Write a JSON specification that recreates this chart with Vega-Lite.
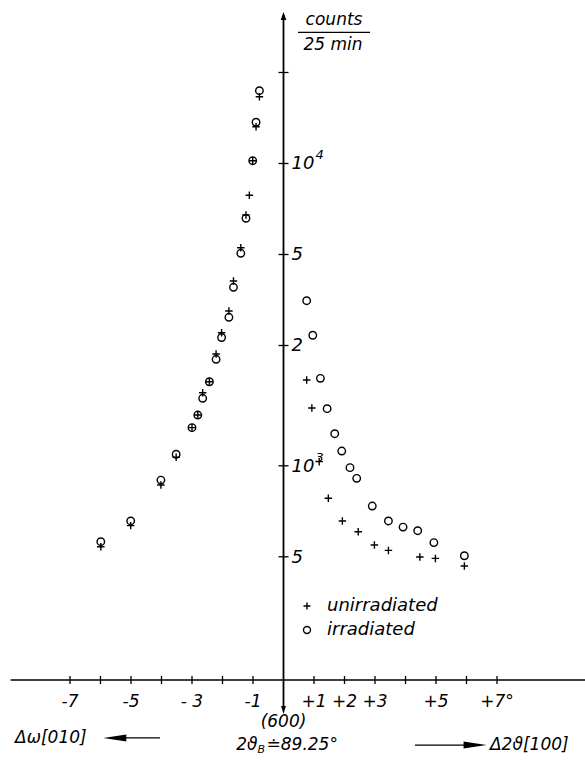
{
  "$schema": "https://vega.github.io/schema/vega-lite/v6.json",
  "width": 585,
  "height": 763,
  "padding": 0,
  "autosize": {"type": "none"},
  "background": "white",
  "config": {
    "view": {"stroke": null},
    "text": {"font": "DejaVu Sans", "fontStyle": "italic", "fontSize": 17, "color": "black"}
  },
  "data": {"values": [{}]},
  "datasets": {
    "pts": [
      {"x": -0.79, "counts": 17410, "series": "irradiated"},
      {"x": -0.79, "counts": 16630, "series": "unirradiated"},
      {"x": -0.9, "counts": 13690, "series": "irradiated"},
      {"x": -0.9, "counts": 13230, "series": "unirradiated"},
      {"x": -1.01, "counts": 10215, "series": "irradiated"},
      {"x": -1.01, "counts": 10215, "series": "unirradiated"},
      {"x": -1.12, "counts": 7849, "series": "unirradiated"},
      {"x": -1.23, "counts": 6587, "series": "irradiated"},
      {"x": -1.23, "counts": 6755, "series": "unirradiated"},
      {"x": -1.4, "counts": 5047, "series": "irradiated"},
      {"x": -1.4, "counts": 5266, "series": "unirradiated"},
      {"x": -1.64, "counts": 3895, "series": "irradiated"},
      {"x": -1.64, "counts": 4087, "series": "unirradiated"},
      {"x": -1.79, "counts": 3099, "series": "irradiated"},
      {"x": -1.79, "counts": 3252, "series": "unirradiated"},
      {"x": -2.03, "counts": 2657, "series": "irradiated"},
      {"x": -2.03, "counts": 2756, "series": "unirradiated"},
      {"x": -2.21, "counts": 2251, "series": "irradiated"},
      {"x": -2.21, "counts": 2343, "series": "unirradiated"},
      {"x": -2.43, "counts": 1897, "series": "irradiated"},
      {"x": -2.43, "counts": 1897, "series": "unirradiated"},
      {"x": -2.65, "counts": 1672, "series": "irradiated"},
      {"x": -2.65, "counts": 1745, "series": "unirradiated"},
      {"x": -2.81, "counts": 1472, "series": "irradiated"},
      {"x": -2.81, "counts": 1472, "series": "unirradiated"},
      {"x": -3.0, "counts": 1337, "series": "irradiated"},
      {"x": -3.0, "counts": 1337, "series": "unirradiated"},
      {"x": -3.52, "counts": 1092, "series": "irradiated"},
      {"x": -3.52, "counts": 1067, "series": "unirradiated"},
      {"x": -4.02, "counts": 897, "series": "irradiated"},
      {"x": -4.02, "counts": 864, "series": "unirradiated"},
      {"x": -5.01, "counts": 657, "series": "irradiated"},
      {"x": -5.01, "counts": 634, "series": "unirradiated"},
      {"x": -5.99, "counts": 561, "series": "irradiated"},
      {"x": -5.99, "counts": 540, "series": "unirradiated"},
      {"x": 0.76, "counts": 3517, "series": "irradiated"},
      {"x": 0.96, "counts": 2703, "series": "irradiated"},
      {"x": 1.21, "counts": 1947, "series": "irradiated"},
      {"x": 1.43, "counts": 1545, "series": "irradiated"},
      {"x": 1.68, "counts": 1277, "series": "irradiated"},
      {"x": 1.91, "counts": 1119, "series": "irradiated"},
      {"x": 2.18, "counts": 986, "series": "irradiated"},
      {"x": 2.4, "counts": 909, "series": "irradiated"},
      {"x": 2.91, "counts": 736, "series": "irradiated"},
      {"x": 3.44, "counts": 657, "series": "irradiated"},
      {"x": 3.92, "counts": 627, "series": "irradiated"},
      {"x": 4.4, "counts": 610, "series": "irradiated"},
      {"x": 4.93, "counts": 557, "series": "irradiated"},
      {"x": 5.93, "counts": 504, "series": "irradiated"},
      {"x": 0.76, "counts": 1922, "series": "unirradiated"},
      {"x": 0.93, "counts": 1553, "series": "unirradiated"},
      {"x": 1.17, "counts": 1032, "series": "unirradiated"},
      {"x": 1.47, "counts": 781, "series": "unirradiated"},
      {"x": 1.93, "counts": 657, "series": "unirradiated"},
      {"x": 2.45, "counts": 605, "series": "unirradiated"},
      {"x": 2.98, "counts": 547, "series": "unirradiated"},
      {"x": 3.44, "counts": 525, "series": "unirradiated"},
      {"x": 4.47, "counts": 499, "series": "unirradiated"},
      {"x": 4.98, "counts": 494, "series": "unirradiated"},
      {"x": 5.93, "counts": 466, "series": "unirradiated"}
    ],
    "yt": [
      {"v": 500, "label": "5", "exp": ""},
      {"v": 1000, "label": "10", "exp": "3"},
      {"v": 2500, "label": "2", "exp": ""},
      {"v": 5000, "label": "5", "exp": ""},
      {"v": 10000, "label": "10", "exp": "4"},
      {"v": 20000, "label": "", "exp": ""}
    ],
    "xt": [
      {"v": -7, "label": "-7"}, {"v": -6, "label": ""}, {"v": -5, "label": "-5"},
      {"v": -4, "label": ""}, {"v": -3, "label": "- 3"}, {"v": -2, "label": ""},
      {"v": -1, "label": "-1"}, {"v": 1, "label": "+1"}, {"v": 2, "label": "+2"},
      {"v": 3, "label": "+3"}, {"v": 4, "label": ""}, {"v": 5, "label": "+5"},
      {"v": 6, "label": ""}, {"v": 7, "label": "+7°"}
    ]
  },
  "layer": [
    {
      "mark": {"type": "rule", "color": "black", "strokeWidth": 1.5},
      "encoding": {
        "x": {"datum": -8.95, "type": "quantitative", "scale": {"domain": [-9.295, 9.885], "nice": false, "zero": false}, "axis": null},
        "x2": {"datum": 9.885},
        "y": {"datum": 195.6, "type": "quantitative", "scale": {"type": "log", "domain": [103.96, 34740], "nice": false}, "axis": null}
      }
    },
    {
      "mark": {"type": "rule", "color": "black", "strokeWidth": 1.8},
      "encoding": {
        "x": {"datum": 0, "type": "quantitative", "scale": {"domain": [-9.295, 9.885], "nice": false, "zero": false}, "axis": null},
        "y": {"datum": 160.5, "type": "quantitative", "scale": {"type": "log", "domain": [103.96, 34740], "nice": false}, "axis": null},
        "y2": {"datum": 30990}
      }
    },
    {
      "mark": {"type": "point", "shape": "M0,-1L0.7,1L-0.7,1Z", "filled": true, "color": "black", "opacity": 1, "size": 64},
      "encoding": {
        "x": {"datum": 0, "type": "quantitative", "scale": {"domain": [-9.295, 9.885], "nice": false, "zero": false}, "axis": null},
        "y": {"datum": 30750, "type": "quantitative", "scale": {"type": "log", "domain": [103.96, 34740], "nice": false}, "axis": null}
      }
    },
    {
      "mark": {"type": "point", "shape": "M0,1L0.6,-1L-0.6,-1Z", "filled": true, "color": "black", "opacity": 1, "size": 64},
      "encoding": {
        "x": {"datum": 0, "type": "quantitative", "scale": {"domain": [-9.295, 9.885], "nice": false, "zero": false}, "axis": null},
        "y": {"datum": 155.7, "type": "quantitative", "scale": {"type": "log", "domain": [103.96, 34740], "nice": false}, "axis": null}
      }
    },
    {
      "data": {"name": "xt"},
      "mark": {"type": "tick", "orient": "vertical", "color": "black", "size": 8, "thickness": 1.3, "opacity": 1},
      "encoding": {
        "x": {"field": "v", "type": "quantitative", "scale": {"domain": [-9.295, 9.885], "nice": false, "zero": false}, "axis": null},
        "y": {"datum": 195.6, "type": "quantitative", "scale": {"type": "log", "domain": [103.96, 34740], "nice": false}, "axis": null}
      }
    },
    {
      "data": {"name": "xt"},
      "mark": {"type": "text", "align": "center", "baseline": "middle", "dy": 22},
      "encoding": {
        "x": {"field": "v", "type": "quantitative", "scale": {"domain": [-9.295, 9.885], "nice": false, "zero": false}, "axis": null},
        "y": {"datum": 195.6, "type": "quantitative", "scale": {"type": "log", "domain": [103.96, 34740], "nice": false}, "axis": null},
        "text": {"field": "label"}
      }
    },
    {
      "data": {"name": "yt"},
      "mark": {"type": "tick", "orient": "horizontal", "color": "black", "size": 10, "thickness": 1.3, "opacity": 1},
      "encoding": {
        "x": {"datum": 0, "type": "quantitative", "scale": {"domain": [-9.295, 9.885], "nice": false, "zero": false}, "axis": null},
        "y": {"field": "v", "type": "quantitative", "scale": {"type": "log", "domain": [103.96, 34740], "nice": false}, "axis": null}
      }
    },
    {
      "data": {"name": "yt"},
      "mark": {"type": "text", "align": "left", "baseline": "middle", "dx": 8, "dy": 1, "fontSize": 18},
      "encoding": {
        "x": {"datum": 0, "type": "quantitative", "scale": {"domain": [-9.295, 9.885], "nice": false, "zero": false}, "axis": null},
        "y": {"field": "v", "type": "quantitative", "scale": {"type": "log", "domain": [103.96, 34740], "nice": false}, "axis": null},
        "text": {"field": "label"}
      }
    },
    {
      "data": {"name": "yt"},
      "mark": {"type": "text", "align": "left", "baseline": "middle", "dx": 32, "dy": -8, "fontSize": 13},
      "encoding": {
        "x": {"datum": 0, "type": "quantitative", "scale": {"domain": [-9.295, 9.885], "nice": false, "zero": false}, "axis": null},
        "y": {"field": "v", "type": "quantitative", "scale": {"type": "log", "domain": [103.96, 34740], "nice": false}, "axis": null},
        "text": {"field": "exp"}
      }
    },
    {
      "mark": {"type": "text", "align": "center", "baseline": "middle"},
      "encoding": {
        "x": {"datum": 1.656, "type": "quantitative", "scale": {"domain": [-9.295, 9.885], "nice": false, "zero": false}, "axis": null},
        "y": {"datum": 29830, "type": "quantitative", "scale": {"type": "log", "domain": [103.96, 34740], "nice": false}, "axis": null},
        "text": {"value": "counts"}
      }
    },
    {
      "mark": {"type": "text", "align": "center", "baseline": "middle"},
      "encoding": {
        "x": {"datum": 1.625, "type": "quantitative", "scale": {"domain": [-9.295, 9.885], "nice": false, "zero": false}, "axis": null},
        "y": {"datum": 24570, "type": "quantitative", "scale": {"type": "log", "domain": [103.96, 34740], "nice": false}, "axis": null},
        "text": {"value": "25 min"}
      }
    },
    {
      "mark": {"type": "rule", "color": "black", "strokeWidth": 1.3},
      "encoding": {
        "x": {"datum": 0.475, "type": "quantitative", "scale": {"domain": [-9.295, 9.885], "nice": false, "zero": false}, "axis": null},
        "x2": {"datum": 2.836},
        "y": {"datum": 27160, "type": "quantitative", "scale": {"type": "log", "domain": [103.96, 34740], "nice": false}, "axis": null}
      }
    },
    {
      "mark": {"type": "text", "align": "center", "baseline": "middle"},
      "encoding": {
        "x": {"datum": 0, "type": "quantitative", "scale": {"domain": [-9.295, 9.885], "nice": false, "zero": false}, "axis": null},
        "y": {"datum": 142.1, "type": "quantitative", "scale": {"type": "log", "domain": [103.96, 34740], "nice": false}, "axis": null},
        "text": {"value": "(600)"}
      }
    },
    {
      "mark": {"type": "text", "align": "right", "baseline": "middle", "dx": -26},
      "encoding": {
        "x": {"datum": 0, "type": "quantitative", "scale": {"domain": [-9.295, 9.885], "nice": false, "zero": false}, "axis": null},
        "y": {"datum": 119.2, "type": "quantitative", "scale": {"type": "log", "domain": [103.96, 34740], "nice": false}, "axis": null},
        "text": {"value": "2ϑ"}
      }
    },
    {
      "mark": {"type": "text", "align": "left", "baseline": "middle", "dx": -26, "dy": 5, "fontSize": 11},
      "encoding": {
        "x": {"datum": 0, "type": "quantitative", "scale": {"domain": [-9.295, 9.885], "nice": false, "zero": false}, "axis": null},
        "y": {"datum": 119.2, "type": "quantitative", "scale": {"type": "log", "domain": [103.96, 34740], "nice": false}, "axis": null},
        "text": {"value": "B"}
      }
    },
    {
      "mark": {"type": "text", "align": "left", "baseline": "middle", "dx": -17},
      "encoding": {
        "x": {"datum": 0, "type": "quantitative", "scale": {"domain": [-9.295, 9.885], "nice": false, "zero": false}, "axis": null},
        "y": {"datum": 119.2, "type": "quantitative", "scale": {"type": "log", "domain": [103.96, 34740], "nice": false}, "axis": null},
        "text": {"value": "≐89.25°"}
      }
    },
    {
      "mark": {"type": "text", "align": "left", "baseline": "middle"},
      "encoding": {
        "x": {"datum": -8.8, "type": "quantitative", "scale": {"domain": [-9.295, 9.885], "nice": false, "zero": false}, "axis": null},
        "y": {"datum": 125.8, "type": "quantitative", "scale": {"type": "log", "domain": [103.96, 34740], "nice": false}, "axis": null},
        "text": {"value": "Δω[010]"}
      }
    },
    {
      "mark": {"type": "text", "align": "left", "baseline": "middle"},
      "encoding": {
        "x": {"datum": 6.77, "type": "quantitative", "scale": {"domain": [-9.295, 9.885], "nice": false, "zero": false}, "axis": null},
        "y": {"datum": 119.2, "type": "quantitative", "scale": {"type": "log", "domain": [103.96, 34740], "nice": false}, "axis": null},
        "text": {"value": "Δ2ϑ[100]"}
      }
    },
    {
      "mark": {"type": "rule", "color": "black", "strokeWidth": 1.2},
      "encoding": {
        "x": {"datum": -5.4, "type": "quantitative", "scale": {"domain": [-9.295, 9.885], "nice": false, "zero": false}, "axis": null},
        "x2": {"datum": -4.05},
        "y": {"datum": 125.8, "type": "quantitative", "scale": {"type": "log", "domain": [103.96, 34740], "nice": false}, "axis": null}
      }
    },
    {
      "mark": {"type": "point", "shape": "M-1,0L1,-0.3L1,0.3Z", "filled": true, "color": "black", "opacity": 1, "size": 529},
      "encoding": {
        "x": {"datum": -5.53, "type": "quantitative", "scale": {"domain": [-9.295, 9.885], "nice": false, "zero": false}, "axis": null},
        "y": {"datum": 125.8, "type": "quantitative", "scale": {"type": "log", "domain": [103.96, 34740], "nice": false}, "axis": null}
      }
    },
    {
      "mark": {"type": "rule", "color": "black", "strokeWidth": 1.2},
      "encoding": {
        "x": {"datum": 4.31, "type": "quantitative", "scale": {"domain": [-9.295, 9.885], "nice": false, "zero": false}, "axis": null},
        "x2": {"datum": 6.1},
        "y": {"datum": 119.2, "type": "quantitative", "scale": {"type": "log", "domain": [103.96, 34740], "nice": false}, "axis": null}
      }
    },
    {
      "mark": {"type": "point", "shape": "M1,0L-1,-0.3L-1,0.3Z", "filled": true, "color": "black", "opacity": 1, "size": 529},
      "encoding": {
        "x": {"datum": 6.28, "type": "quantitative", "scale": {"domain": [-9.295, 9.885], "nice": false, "zero": false}, "axis": null},
        "y": {"datum": 119.2, "type": "quantitative", "scale": {"type": "log", "domain": [103.96, 34740], "nice": false}, "axis": null}
      }
    },
    {
      "data": {"name": "pts"},
      "mark": {"type": "point", "filled": false, "color": "black", "opacity": 1, "strokeWidth": 1.4, "size": 56},
      "encoding": {
        "x": {"field": "x", "type": "quantitative", "scale": {"domain": [-9.295, 9.885], "nice": false, "zero": false}, "axis": null},
        "y": {"field": "counts", "type": "quantitative", "scale": {"type": "log", "domain": [103.96, 34740], "nice": false}, "axis": null},
        "shape": {
          "field": "series",
          "type": "nominal",
          "scale": {"domain": ["unirradiated", "irradiated"], "range": ["M-1,0L1,0M0,-1L0,1", "circle"]},
          "legend": {
            "title": null,
            "orient": "none",
            "legendX": 298,
            "legendY": 597,
            "padding": 0,
            "labelFontSize": 18,
            "labelFont": "DejaVu Sans",
            "labelFontStyle": "italic",
            "labelColor": "black",
            "symbolSize": 49,
            "symbolStrokeWidth": 1.4,
            "symbolStrokeColor": "black",
            "symbolFillColor": "transparent",
            "labelOffset": 11,
            "rowPadding": 6
          }
        }
      }
    }
  ]
}
